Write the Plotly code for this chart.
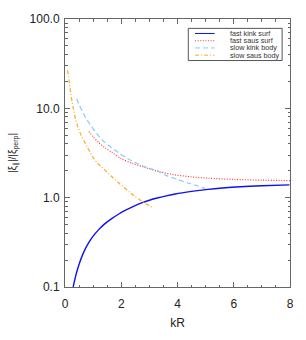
import plotly.graph_objects as go

# ---- data ----
kr_fast_kink = [0.29, 0.33, 0.38, 0.44, 0.52, 0.61, 0.72, 0.85, 1.0, 1.19, 1.4, 1.66, 1.9, 2.12, 2.4, 2.7, 3.0, 3.28, 3.6, 3.92, 4.5, 5.08, 5.6, 6.24, 7.0, 7.98]
ratio_fast_kink = [0.100, 0.114, 0.133, 0.156, 0.187, 0.223, 0.267, 0.316, 0.371, 0.436, 0.506, 0.583, 0.652, 0.715, 0.789, 0.867, 0.935, 0.991, 1.047, 1.10, 1.175, 1.239, 1.284, 1.327, 1.361, 1.390]

kr_fast_saus = [0.85, 1.0, 1.19, 1.4, 1.66, 2.0, 2.4, 2.8, 3.3, 3.9, 4.5, 5.1, 6.0, 7.0, 8.0]
ratio_fast_saus = [5.5, 4.8, 4.16, 3.65, 3.23, 2.73, 2.42, 2.2, 1.97, 1.8, 1.71, 1.65, 1.60, 1.57, 1.55]

kr_slow_kink = [0.42, 0.5, 0.61, 0.72, 0.85, 1.0, 1.19, 1.4, 1.66, 1.9, 2.24, 2.58, 2.9, 3.28, 3.6, 4.0, 4.4, 4.7, 4.98]
ratio_slow_kink = [12.8, 11.0, 9.3, 8.0, 6.9, 5.9, 4.92, 4.2, 3.61, 3.2, 2.73, 2.40, 2.18, 2.0, 1.77, 1.6, 1.45, 1.36, 1.27]

kr_slow_saus = [0.09, 0.12, 0.15, 0.18, 0.21, 0.25, 0.30, 0.38, 0.46, 0.56, 0.68, 0.79, 0.9, 1.02, 1.15, 1.31, 1.5, 1.7, 1.89, 2.1, 2.3, 2.47, 2.7, 2.9, 3.1]
ratio_slow_saus = [26.6, 23.0, 19.8, 16.8, 14.3, 12.0, 9.8, 7.4, 6.2, 5.1, 4.3, 3.67, 3.2, 2.75, 2.45, 2.2, 1.92, 1.68, 1.48, 1.3, 1.15, 1.04, 0.93, 0.85, 0.78]

series_names = ["fast kink surf", "fast saus surf", "slow kink body", "slow saus body"]
series_colors = ["#1010f0", "#ff3a3a", "#87cef0", "#ffa820"]
series_dashes = ["solid", "1px,1.6px", "5px,3px", "4px,2px,1px,2px"]
series_widths = [1.4, 1.2, 1.2, 1.2]

x_ticks = [0, 2, 4, 6, 8]
y_tickvals = [0.1, 1, 10, 100]
y_ticktext = ["0.1", "1.0", "10.0", "100.0"]

xs = [kr_fast_kink, kr_fast_saus, kr_slow_kink, kr_slow_saus]
ys = [ratio_fast_kink, ratio_fast_saus, ratio_slow_kink, ratio_slow_saus]

fig = go.Figure()
for x, y, n, c, d, w in zip(xs, ys, series_names, series_colors, series_dashes, series_widths):
    fig.add_trace(go.Scatter(x=x, y=y, mode="lines", name=n,
                             line=dict(color=c, width=w, dash=d, shape="spline", smoothing=0.8),
                             showlegend=False))

axcol = "#666666"
fig.update_xaxes(range=[0, 8], tickvals=x_ticks, ticks="inside", ticklen=5,
                 tickcolor=axcol, showline=True, linecolor=axcol, linewidth=1,
                 mirror="allticks", showgrid=False, zeroline=False,
                 minor=dict(ticks="inside", ticklen=2.5, dtick=0.5, tickcolor=axcol, showgrid=False),
                 tickfont=dict(size=12, color="#222222"), ticklabelstandoff=6,
                 title=dict(text="kR", font=dict(size=12, color="#222222"), standoff=8))
minor_y = [m * 10 ** e for e in (-1, 0, 1) for m in range(2, 10)]
fig.update_yaxes(type="log", range=[-1, 2], tickvals=y_tickvals, ticktext=y_ticktext,
                 ticks="inside", ticklen=5, tickcolor=axcol, showline=True,
                 linecolor=axcol, linewidth=1, mirror="allticks", showgrid=False,
                 zeroline=False,
                 minor=dict(ticks="inside", ticklen=2.5, tickvals=minor_y, tickcolor=axcol, showgrid=False),
                 tickfont=dict(size=12, color="#222222"), ticklabelstandoff=2,
                 title=dict(text="|ξ<sub>∥</sub>|/|ξ<sub>perp</sub>|",
                            font=dict(size=10, color="#222222"), standoff=11))

# ---- legend drawn as box + samples + labels ----
lx0, lx1, ly0, ly1 = 0.548, 0.965, 0.845, 0.965
fig.add_shape(type="rect", xref="paper", yref="paper", x0=lx0, x1=lx1, y0=ly0, y1=ly1,
              line=dict(color="#555555", width=1), fillcolor="white")
row_y = [0.946, 0.919, 0.892, 0.865]
for ry, n, c, d in zip(row_y, series_names, series_colors, series_dashes):
    fig.add_shape(type="line", xref="paper", yref="paper", x0=0.578, x1=0.665, y0=ry, y1=ry,
                  line=dict(color=c, width=1, dash=d))
    fig.add_annotation(xref="paper", yref="paper", x=0.730, y=ry, text=n, showarrow=False,
                       xanchor="left", yanchor="middle", borderpad=0,
                       font=dict(size=7.2, color="#333333"))

fig.update_layout(width=306, height=340, margin=dict(l=61, r=15, t=16, b=51),
                  plot_bgcolor="white", paper_bgcolor="white",
                  font=dict(family="Liberation Sans, Arial, sans-serif"))
fig.write_html("out.html", config={"displayModeBar": False},
               post_script="document.body.style.margin='0';")
